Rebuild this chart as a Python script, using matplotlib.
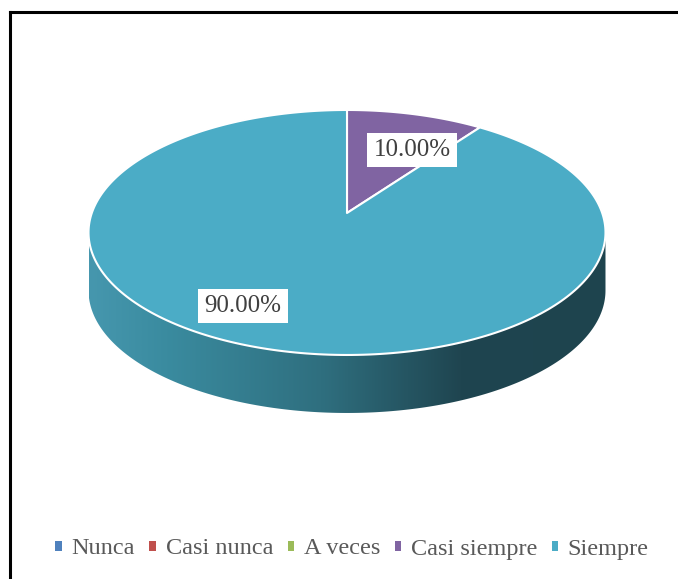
import matplotlib
matplotlib.use("Agg")
import matplotlib.pyplot as plt
from matplotlib.patches import Polygon, Rectangle
from matplotlib.colors import LinearSegmentedColormap
from matplotlib.lines import Line2D
import numpy as np

# chart data
categories = ["Nunca", "Casi nunca", "A veces", "Casi siempre", "Siempre"]
values = [0, 0, 0, 10, 90]
colors = ["#4F81BD", "#C0504D", "#9BBB59", "#8064A2", "#4BACC6"]

# pie geometry (pixels, perspective-ish tilted disk)
CX, CY = 347, 213
SX, SY = 255.2, 119.4
K = 0.159
DEPTH = 58

W, H = 678, 579
fig = plt.figure(figsize=(W / 100, H / 100), dpi=100)
ax = fig.add_axes([0, 0, 1, 1])
ax.set_xlim(0, W)
ax.set_ylim(H, 0)
ax.axis("off")


def rim(theta):
    # theta in radians, clockwise from 12 o'clock
    u = np.sin(theta)
    v = -np.cos(theta)
    w = 1 - K * v
    return CX + SX * u / w, CY + SY * v / w


total = float(sum(values))
fracs = [v / total for v in values]
starts = np.cumsum([0] + fracs[:-1]) * 2 * np.pi
ends = starts + np.array(fracs) * 2 * np.pi

# visible front side spans between the two x-extremes of the rim
t_lo = np.arccos(-K)
t_hi = 2 * np.pi - t_lo

side_cmap = LinearSegmentedColormap.from_list(
    "side", [(0.0, "#4697AE"), (0.15, "#3A8B9F"), (0.45, "#2F6F7F"),
             (0.72, "#1F4550"), (1.0, "#1E444E")])

for s, e in zip(starts, ends):
    a, b = max(s, t_lo), min(e, t_hi)
    if b <= a:
        continue
    t = np.linspace(a, b, 200)
    xs, ys = rim(t)
    pts = np.column_stack([np.r_[xs, xs[::-1]], np.r_[ys, ys[::-1] + DEPTH]])
    poly = Polygon(pts, closed=True, facecolor="none", edgecolor="none")
    ax.add_patch(poly)
    grad = np.linspace(0, 1, 256).reshape(1, -1)
    x0, x1 = rim(t_lo)[0], rim(t_hi)[0]
    im = ax.imshow(grad, cmap=side_cmap, aspect="auto",
                   extent=[x1, x0, CY + 150 + DEPTH, CY], zorder=1)
    im.set_clip_path(poly)

# top faces
for s, e, c in zip(starts, ends, colors):
    if e - s <= 0:
        continue
    t = np.linspace(s, e, 300)
    xs, ys = rim(t)
    pts = np.column_stack([np.r_[CX, xs], np.r_[CY, ys]])
    ax.add_patch(Polygon(pts, closed=True, facecolor=c, edgecolor="white",
                         linewidth=1.5, joinstyle="round", zorder=2))

# data labels
label_pos = [(412, 150), (243, 306)]
shown = [i for i, v in enumerate(values) if v > 0]
for (lx, ly), i in zip(label_pos, shown):
    ax.text(lx, ly, f"{fracs[i] * 100:.2f}%", ha="center", va="center",
            fontsize=18, family="Liberation Serif", color="#404040", zorder=4,
            bbox=dict(boxstyle="square,pad=0.25", facecolor="white", edgecolor="none"))

# chart frame
ax.add_line(Line2D([9.5, 9.5], [11.5, H], color="black", linewidth=2.2))
ax.add_line(Line2D([9.5, W], [11.5, 11.5], color="black", linewidth=2.2))

# legend
handles = [Rectangle((0, 0), 1, 1, facecolor=c, edgecolor="none") for c in colors]
leg = fig.legend(handles, categories, loc="center", bbox_to_anchor=(352 / W, 1 - 549 / H),
                 ncol=5, frameon=False, handlelength=0.26, handleheight=0.26,
                 handletextpad=0.4, columnspacing=0.6, borderpad=0, borderaxespad=0,
                 prop={"family": "Liberation Serif", "size": 17.5})
for txt in leg.get_texts():
    txt.set_color("#595959")

fig.savefig("out.png", dpi=100)
